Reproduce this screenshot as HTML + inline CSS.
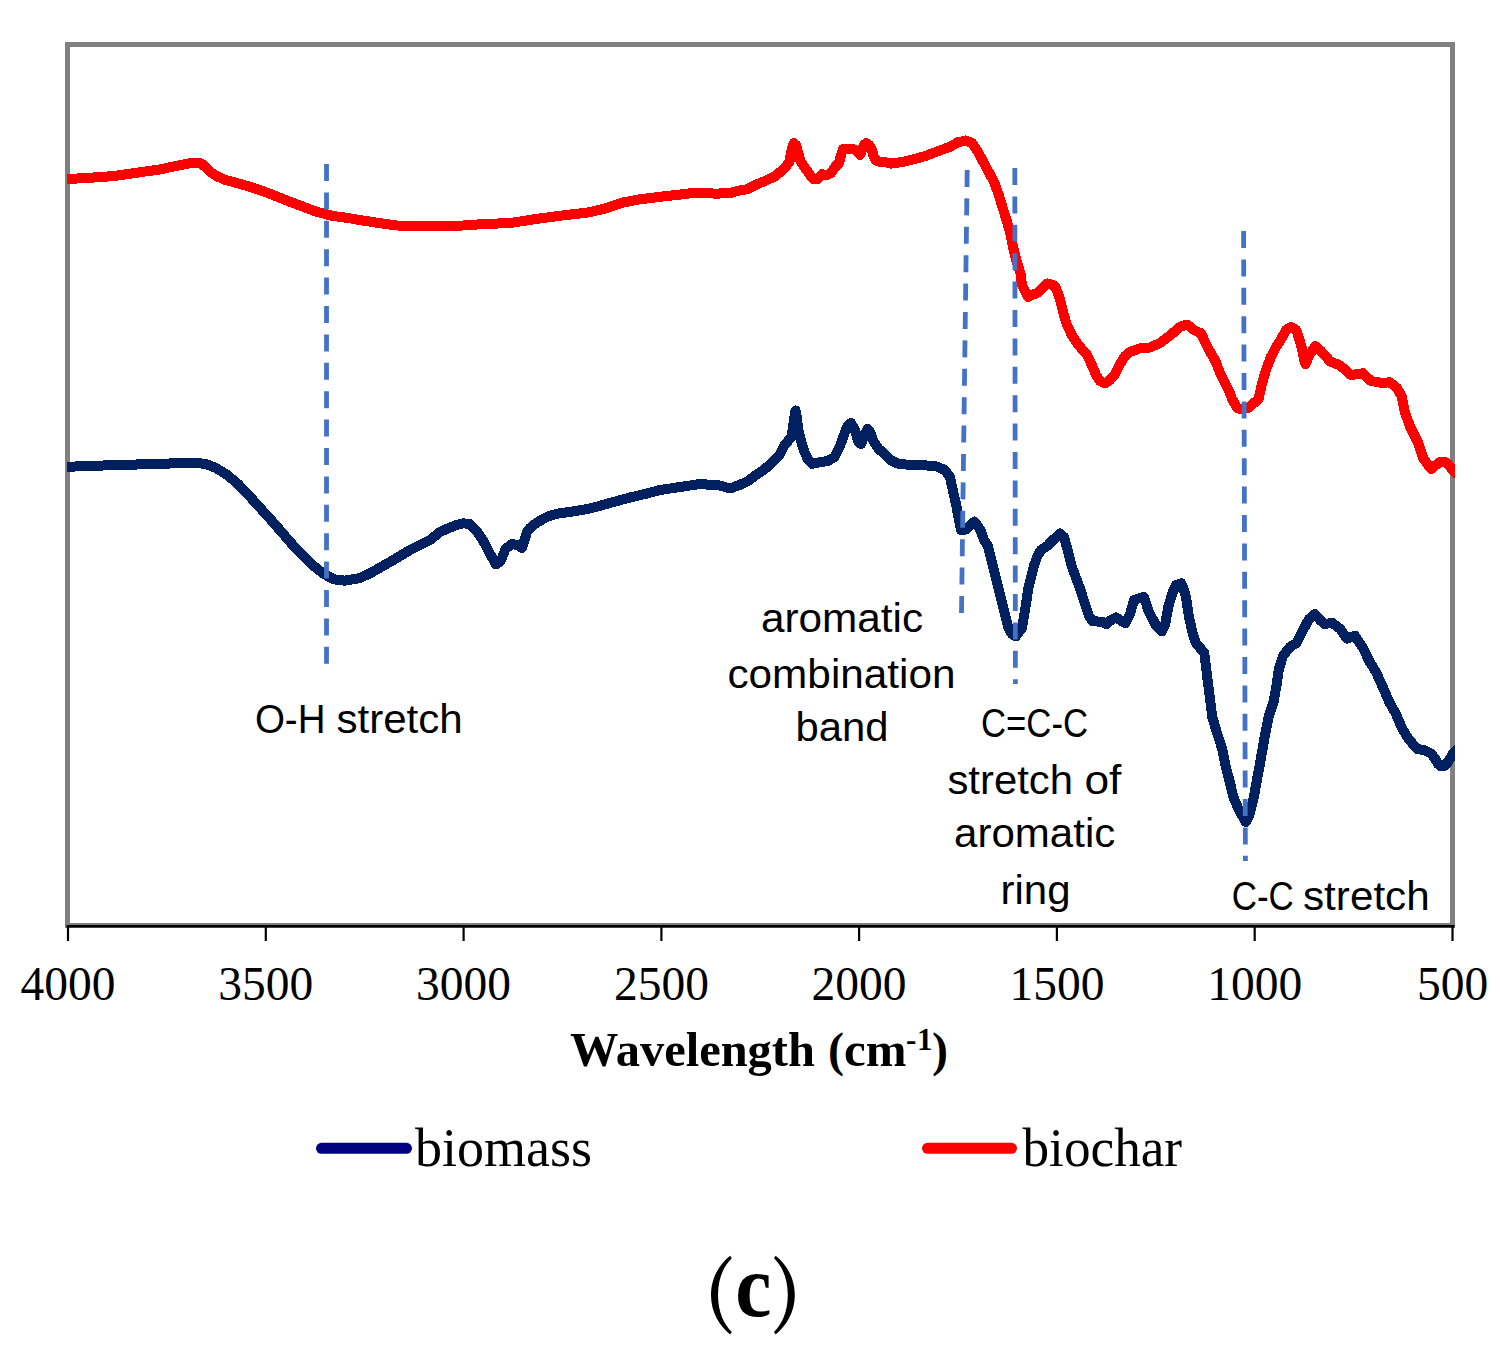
<!DOCTYPE html>
<html><head><meta charset="utf-8"><style>
html,body{margin:0;padding:0;background:#fff;}
body{width:1500px;height:1361px;overflow:hidden;}
svg{display:block;}
.sans{font-family:"Liberation Sans",sans-serif;}
.serif{font-family:"Liberation Serif",serif;}
</style></head><body>
<svg width="1500" height="1361" viewBox="0 0 1500 1361">
<rect x="0" y="0" width="1500" height="1361" fill="#fff"/>
<rect x="67.5" y="44.5" width="1385" height="881" fill="none" stroke="#808080" stroke-width="5"/>
<g stroke="#000" stroke-width="2.6" fill="none">
<line x1="66.5" y1="926.3" x2="1454.5" y2="926.3"/>
</g>
<g stroke="#000" stroke-width="2.2"><line x1="68.0" y1="925" x2="68.0" y2="941"/><line x1="265.8" y1="925" x2="265.8" y2="941"/><line x1="463.6" y1="925" x2="463.6" y2="941"/><line x1="661.4" y1="925" x2="661.4" y2="941"/><line x1="859.1" y1="925" x2="859.1" y2="941"/><line x1="1056.9" y1="925" x2="1056.9" y2="941"/><line x1="1254.7" y1="925" x2="1254.7" y2="941"/><line x1="1452.5" y1="925" x2="1452.5" y2="941"/></g>
<clipPath id="pc"><rect x="60" y="0" width="1395" height="1361"/></clipPath>
<g clip-path="url(#pc)">
<polyline shape-rendering="crispEdges" fill="none" stroke="#00205f" stroke-width="10" stroke-linejoin="round" stroke-linecap="butt" points="67,466.8 100,465.6 140,464.4 180,463.2 190,462.5 206,463.9 216.7,468.4 227.3,475 238,484 248.7,495.3 259.3,507 270,518.8 280.7,531 291.3,543.3 302,554.5 312.7,565.2 323.3,573.7 334,579.3 344.7,580.7 360,578 370,573.4 390,562 410,550 430,540 440,532 448,528.4 456,525.2 463,523.3 469.6,524 476,530.4 481.6,538 486.4,546.8 491.2,556 496,564.5 500.8,560.8 505.6,548.8 512,544 518.4,545.4 522,548 524.5,540 527,532 529.6,528.4 536,523.2 544,518.4 552,515 560,513.2 570,512 590,508.5 610,503 630,497.5 645,494 660,490 680,487 700,484 720,485.5 730,488.5 740,484.8 748,481 756,475 764,469.8 772,462.6 780,454.2 784,446 788,441 791.5,437 794,420 795.5,410.5 797,418 798,428 800,437 802.5,446 805,453 808,459.5 812,463.8 820,462.2 828,461 834.4,457 840,446 844,435 847,427 851,423 855,430 858,441 861,444 864,436 867.5,429 870,432 873.7,441.5 878.4,448.7 885,454.4 891,460.2 897.5,463.5 912,465.2 926,465.4 936,466.3 945,470 950,477 953,491 956.3,505.5 959,520 961,530 964,530 967.3,528.6 974.5,521.5 980.7,530.7 984,540 987.9,546.1 993,566.7 998.2,587.3 1003.3,607.8 1008.5,628.4 1012,634 1015.7,636.5 1019,632 1021.9,628.4 1025.4,607.8 1028.5,587.3 1033.7,566.7 1037.2,556.4 1041,550 1047.5,545.6 1053,540 1059.9,533.5 1064,537 1066.6,546.1 1072,567 1079.8,588 1085.9,606.7 1089,616 1092.7,621.2 1102,621.8 1106.7,624.2 1111,620 1116,617.4 1120,620 1125.3,623.3 1130,614 1134,600 1139.3,598.3 1144,597 1148.7,611.3 1155.9,625.3 1161.7,631.5 1165,625.3 1168.3,606.7 1172.5,592.7 1176,585 1181.3,583.2 1184,590 1186,597.3 1188.8,616 1193,634.7 1196,643 1200,648 1204.2,652.4 1208.2,684.7 1212.3,717.1 1217.1,733.3 1222.4,749.4 1225.6,765.6 1229.7,781.8 1233.7,798 1239.4,810.9 1245.8,822 1249,816 1253.6,798 1259.6,765.6 1265.3,733.3 1268.5,717.1 1273.8,700.9 1276.6,684.7 1279,668.5 1283,656 1290,647 1296.6,643 1303.2,629.7 1309,619 1315,614 1320,620 1324.4,624.1 1332.3,622.8 1340.3,629.1 1346.9,638.7 1354.8,635.7 1362.8,647.5 1369.4,661.5 1376,672 1382.6,686.7 1389.2,701.9 1395.8,713.7 1402.4,729 1409,739.5 1417,748.8 1425,750.5 1431,753.5 1435,758.5 1438,764 1441,766.5 1444,766 1448,762 1452,755 1458,748"/>
<polyline shape-rendering="crispEdges" fill="none" stroke="#ff0000" stroke-width="10" stroke-linejoin="round" stroke-linecap="butt" points="67,179 81,178.3 97,177.3 113,176.1 129,173.9 145,171.5 161,169.3 171.7,166.8 182.3,164.8 193,162.5 201.5,163.5 209,170.8 216.5,176.1 225,179.8 236,182.8 252,187.4 268,193 284,199.5 300,205.5 316,211.6 332,215.8 348,218 364,220.7 380,223.2 397,225.5 432,226 463,225.5 484,224 510,223.1 536,219 562,215.5 588,212.5 605,208.6 623,202.5 640,199.3 659,196.9 677,194.9 696,192.6 715,193.6 729,193.3 738,190.8 747,189.2 757,184.3 766,180.5 775,176.3 779,173 785,167.5 789.5,162 791,152 793.8,143 796,145 798,152 800.5,161 803.5,166 806.6,170 810,175 813,179 817,179.5 822,174.2 826,175.5 831,173 835,167 839,163 841,155 843,149 846,148.5 852,148.5 857,151 860,155 862,150 864,145 866.2,143 869,145 872,150 873.5,156 876,160.5 880,162 887,162.5 891,163.6 902,162 914,159.2 926,155.8 938,151.2 950,146.8 958,142.2 966,140.5 972,143 978,152 986,167 994,182 998.6,194.4 1002.6,207.6 1006.8,220.9 1010.5,234.1 1013.1,247.3 1016.4,260.5 1020.6,273.8 1022,285.2 1028,296.9 1038.5,292.3 1047.3,283.5 1053,285 1056,288 1060.2,300 1063.8,315 1067,325 1071.8,335 1078.5,345 1087,355 1091.8,365 1096,375 1100,381 1105,383.5 1110,380 1115,374 1120,364 1125,356 1130,352 1140,348.3 1150,347.5 1160,343 1170,335.5 1180,327 1187,324.5 1194,330 1201,333.3 1207.6,347.3 1215.5,361.3 1221,375.3 1228.3,389.3 1232,398.7 1237,408 1242,409.5 1249,407.5 1254,403 1258.7,398.7 1261.7,384.7 1265.7,370.7 1271,356.7 1276,347.3 1281.8,338 1286,330 1291,327 1296,330 1297.5,333.3 1301.6,347.3 1304.4,361.3 1305.5,364 1309.8,354 1315.4,346 1321,351 1330.3,361.6 1340,365.4 1351,375 1363,373.2 1371,381 1381,382.7 1390,382.4 1397,388 1401.8,396.6 1404.8,412 1410.4,427.4 1418.2,442.8 1423.3,458.3 1431,469 1436,465 1440,462 1445,462 1448,464 1451,468 1455,472 1458,475"/>
</g>
<g stroke="#4472c4" stroke-width="4.8" stroke-dasharray="17 11.4" fill="none"><line x1="326.5" y1="164" x2="326.5" y2="664"/><line x1="967.2" y1="170" x2="961.5" y2="613"/><line x1="1014.8" y1="168" x2="1015.4" y2="684"/><line x1="1243.6" y1="231" x2="1245.4" y2="861"/></g>
<g class="serif" font-size="47.5" text-anchor="middle" fill="#000"><text x="68.0" y="1000">4000</text><text x="265.8" y="1000">3500</text><text x="463.6" y="1000">3000</text><text x="661.4" y="1000">2500</text><text x="859.1" y="1000">2000</text><text x="1056.9" y="1000">1500</text><text x="1254.7" y="1000">1000</text><text x="1452.5" y="1000">500</text></g>
<g class="serif" font-weight="bold" font-size="48" fill="#000">
<text x="570" y="1066" textLength="244.9" lengthAdjust="spacingAndGlyphs">Wavelength</text>
<text x="828" y="1066">(</text>
<text x="844" y="1066" textLength="62.5" lengthAdjust="spacingAndGlyphs">cm</text>
<text x="906" y="1050" font-size="31">-</text>
<text x="917" y="1050" font-size="31">1</text>
<text x="932" y="1066">)</text>
</g>
<g class="sans" font-size="40" text-anchor="middle" fill="#000">
<text x="290.2" y="733" textLength="70.6" lengthAdjust="spacingAndGlyphs">O-H</text>
<text x="399.6" y="733" textLength="126.4" lengthAdjust="spacingAndGlyphs">stretch</text>
<text x="842" y="631.7" textLength="162.2" lengthAdjust="spacingAndGlyphs">aromatic</text>
<text x="841.5" y="687.5" textLength="228.2" lengthAdjust="spacingAndGlyphs">combination</text>
<text x="842" y="740.8" textLength="93" lengthAdjust="spacingAndGlyphs">band</text>
<text x="1034.5" y="736.9" textLength="107" lengthAdjust="spacingAndGlyphs">C=C-C</text>
<text x="1010.2" y="793.8" textLength="125.6" lengthAdjust="spacingAndGlyphs">stretch</text>
<text x="1102.9" y="793.8" textLength="37" lengthAdjust="spacingAndGlyphs">of</text>
<text x="1034.7" y="847.1" textLength="161.2" lengthAdjust="spacingAndGlyphs">aromatic</text>
<text x="1035.5" y="903.7" textLength="70" lengthAdjust="spacingAndGlyphs">ring</text>
<text x="1262.8" y="909.9" textLength="62" lengthAdjust="spacingAndGlyphs">C-C</text>
<text x="1366.35" y="909.9" textLength="126.7" lengthAdjust="spacingAndGlyphs">stretch</text>
</g>
<line x1="321.5" y1="1148.3" x2="406.5" y2="1148.3" stroke="#000080" stroke-width="11" stroke-linecap="round"/>
<line x1="927.5" y1="1148.3" x2="1011.5" y2="1148.3" stroke="#ff0000" stroke-width="11" stroke-linecap="round"/>
<g class="serif" font-size="54" fill="#000">
<text x="415" y="1166">biomass</text>
<text x="1022.5" y="1166" textLength="159.6" lengthAdjust="spacingAndGlyphs">biochar</text>
</g>
<g class="serif" fill="#000">
<path d="M730.2,1255.8 L731.8,1258.2 C723.5,1266 718,1279 718,1295 C718,1311 723.5,1324 731.8,1332 L730.2,1334.4 C719.5,1326 711,1312 711,1295 C711,1278 719.5,1264 730.2,1255.8 Z"/>
<text x="735.3" y="1316.3" font-size="88" font-weight="bold" textLength="36.2" lengthAdjust="spacingAndGlyphs">c</text>
<path d="M775.6,1255.8 L774,1258.2 C782.3,1266 787.8,1279 787.8,1295 C787.8,1311 782.3,1324 774,1332 L775.6,1334.4 C786.3,1326 794.8,1312 794.8,1295 C794.8,1278 786.3,1264 775.6,1255.8 Z"/>
</g>
</svg>
</body></html>
